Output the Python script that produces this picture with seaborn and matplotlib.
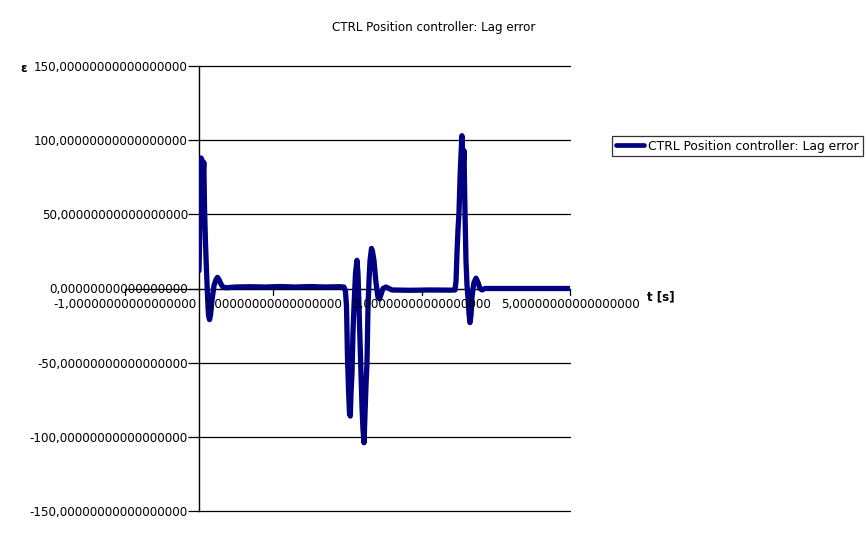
import matplotlib
matplotlib.use("Agg")
import matplotlib.pyplot as plt
import seaborn as sns
import pandas as pd

# ---- data ----
t = [0.000, 0.008, 0.018, 0.027, 0.038, 0.047, 0.057, 0.065, 0.074, 0.088,
     0.101, 0.115, 0.128, 0.142, 0.155, 0.175, 0.202, 0.229, 0.249, 0.270,
     0.296, 0.323, 0.364, 0.485, 0.687, 0.889, 1.092, 1.294, 1.496, 1.698,
     1.900, 1.954, 1.974, 1.988, 2.001, 2.015, 2.028, 2.039, 2.049, 2.062,
     2.075, 2.089, 2.109, 2.129, 2.143, 2.156, 2.170, 2.183, 2.197, 2.210,
     2.224, 2.237, 2.251, 2.264, 2.278, 2.291, 2.305, 2.325, 2.338, 2.358,
     2.385, 2.412, 2.433, 2.453, 2.480, 2.520, 2.561, 2.601, 2.844, 3.113,
     3.383, 3.450, 3.464, 3.477, 3.491, 3.504, 3.518, 3.531, 3.544, 3.558,
     3.571, 3.585, 3.598, 3.612, 3.625, 3.639, 3.652, 3.666, 3.679, 3.693,
     3.706, 3.733, 3.760, 3.787, 3.814, 3.854, 3.922, 4.461, 5.000]
eps = [12, 33, 70, 88, 87, 62, 78, 85, 55, 30,
       12, -5, -18, -21, -18, -8, 2, 6, 7.5, 6,
       3, 1, 0.5, 1.0, 1.2, 1.0, 1.3, 1.0, 1.3, 1.0,
       1.2, 1.0, -2, -12, -46, -68, -84, -86, -70, -57,
       -30, -12, 10, 19, 10, -12, -35, -57, -80, -95,
       -104, -85, -65, -50, -12, 5, 19, 27, 25, 19,
       4, -6, -7, -4, 0, 1, 0, -1, -1.2, -1.0,
       -1.1, -1, 5, 24, 40, 51, 75, 90, 103, 78,
       93, 51, 19, 2, -6, -17, -23, -18, -6, 0,
       4, 7, 4, 0, -1, 0, 0, 0, 0]

series_name = "CTRL Position controller: Lag error"
title = "CTRL Position controller: Lag error"
y_ticks = [-150, -100, -50, 0, 50, 100, 150]
y_ticklabels = ["-150,00000000000000000", "-100,00000000000000000", "-50,00000000000000000",
                "0,00000000000000000", "50,00000000000000000", "100,00000000000000000",
                "150,00000000000000000"]
x_ticks = [1, 3, 5]
x_ticklabels = ["1,00000000000000000", "3,00000000000000000", "5,00000000000000000"]
x_extra_tick = -1
x_extra_label = "-1,00000000000000000"
x_label = "t [s]"
y_label = "ε"

df = pd.DataFrame({"t": t, "eps": eps})

sns.set_style("white")
plt.rcParams["font.family"] = ["DejaVu Sans"]
plt.rcParams["text.color"] = "black"
plt.rcParams["ytick.color"] = "black"
plt.rcParams["xtick.color"] = "black"
FS = 8.6

fig = plt.figure(figsize=(8.67, 5.48), dpi=100)
W, H = 867, 548
ax = fig.add_axes([199 / W, (H - 511) / H, (570 - 199) / W, (511 - 66) / H])

sns.lineplot(data=df, x="t", y="eps", ax=ax, color="#000080", linewidth=3.8,
             estimator=None, sort=False, label=series_name, legend=False, zorder=3)

ax.set_xlim(0, 5)
ax.set_ylim(-150, 150)
ax.set_xlabel("")
ax.set_ylabel("")

for s in ["top", "right", "bottom"]:
    ax.spines[s].set_visible(False)
ax.spines["left"].set_color("black")
ax.spines["left"].set_linewidth(1.0)

ax.set_yticks(y_ticks)
ax.set_yticklabels(y_ticklabels, fontsize=FS, color="black")
ax.yaxis.grid(False)
for yv in y_ticks:
    ax.axhline(yv, color="black", linewidth=0.9, clip_on=False, zorder=1)
ax.tick_params(axis="y", direction="out", length=8, width=0.9, pad=0, left=True, color="black")

# x axis crossing at y=0
ax.set_xticks([])
ax.plot([x_extra_tick, 5], [0, 0], color="black", linewidth=0.9, clip_on=False, zorder=1)
tick_pts = [x_extra_tick] + x_ticks
tick_lbls = [x_extra_label] + x_ticklabels
for xv, lb in zip(tick_pts, tick_lbls):
    ax.plot([xv, xv], [0, -4.2], color="black", linewidth=0.9, clip_on=False, zorder=1)
    ax.text(xv, -10.5, lb, ha="center", va="center", fontsize=FS, color="black", clip_on=False)

fig.text(647 / W, 1 - 297 / H, x_label, fontsize=FS, fontweight="bold", ha="left", va="center")
fig.text(20 / W, 1 - 68 / H, y_label, fontsize=FS, fontweight="bold", ha="left", va="center")
fig.text(0.5, 1 - 27 / H, title, fontsize=FS, ha="center", va="center")

handles, labels = ax.get_legend_handles_labels()
leg = fig.legend(handles, labels, loc="upper left", bbox_to_anchor=(612 / W, 1 - 136 / H),
                 fontsize=8.9, frameon=True, fancybox=False, borderpad=0.3,
                 handlelength=2.25, handletextpad=0.4, borderaxespad=0)
leg.get_frame().set_edgecolor("black")
leg.get_frame().set_linewidth(0.9)
for ln in leg.get_lines():
    ln.set_linewidth(3.4)

fig.savefig("out.png", dpi=100)
